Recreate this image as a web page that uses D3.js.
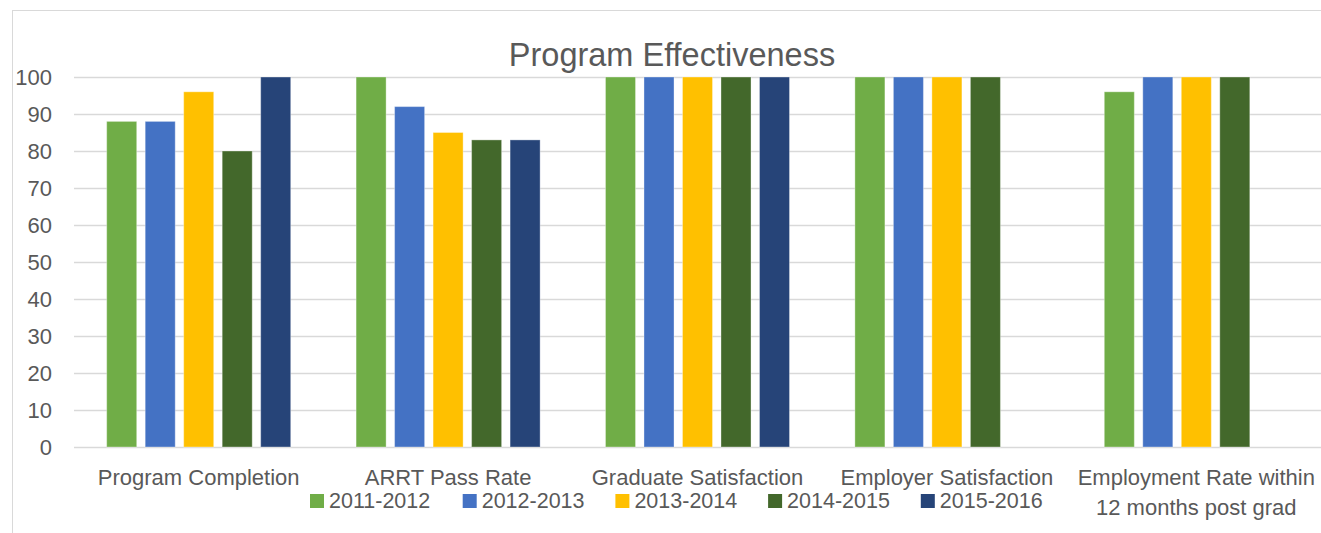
<!DOCTYPE html>
<html>
<head>
<meta charset="utf-8">
<script src="https://cdn.jsdelivr.net/npm/d3@7"></script>
<style>
	body { margin: 0; background: #fff; }
	svg { display: block; font-family: "Liberation Sans", Arial, sans-serif; }
</style>
</head>
<body>
<svg id="chart" width="1321" height="533"></svg>
<script>
// chart data
const categories = [
	["Program Completion"],
	["ARRT Pass Rate"],
	["Graduate Satisfaction"],
	["Employer Satisfaction"],
	["Employment Rate within", "12 months post grad"]
];
const years = ["2011-2012", "2012-2013", "2013-2014", "2014-2015", "2015-2016"];
const colors = ["#70AD47", "#4472C4", "#FFC000", "#43682B", "#264478"];
// one array per year, one value per category (null = no bar)
const v2011 = [88, 100, 100, 100, 96];
const v2012 = [88, 92, 100, 100, 100];
const v2013 = [96, 85, 100, 100, 100];
const v2014 = [80, 83, 100, 100, 100];
const v2015 = [100, 83, 100, null, null];
const yTicks = [0, 10, 20, 30, 40, 50, 60, 70, 80, 90, 100];

const series = [v2011, v2012, v2013, v2014, v2015];
const textColor = "#595959";
const gridColor = "#d9d9d9";

const svg = d3.select("#chart");

// chart frame (runs off the right and bottom edges)
svg.append("rect")
	.attr("x", 12.5).attr("y", 10.5)
	.attr("width", 1400).attr("height", 600)
	.attr("fill", "none")
	.attr("stroke", gridColor);

const plot = { left: 74, right: 1321, top: 77, bottom: 447 };

const x = d3.scaleBand()
	.domain(d3.range(categories.length))
	.range([plot.left, plot.right]);

const xInner = d3.scaleBand()
	.domain(years)
	.range([0, 192.5])
	.paddingInner(0.22)
	.paddingOuter(0.11);

const y = d3.scaleLinear()
	.domain([0, 100])
	.range([plot.bottom, plot.top]);

// gridlines + y labels
const yAxis = svg.append("g")
	.attr("transform", `translate(${plot.left},0)`)
	.call(d3.axisLeft(y).tickValues(yTicks).tickSize(-(plot.right - plot.left)).tickPadding(22));
yAxis.select(".domain").remove();
yAxis.selectAll(".tick line")
	.attr("stroke", gridColor)
	.attr("stroke-width", 1.5);
yAxis.selectAll(".tick text")
	.attr("fill", textColor)
	.attr("font-size", 22)
	.attr("font-family", "Liberation Sans, Arial, sans-serif");

// bars
const groups = svg.append("g")
	.selectAll("g")
	.data(categories.map((c, i) => i))
	.join("g")
	.attr("transform", i => `translate(${x(i) + x.bandwidth() / 2 - 96.25},0)`);

groups.selectAll("rect")
	.data(i => years.map((yr, s) => ({ yr, s, v: series[s][i] })).filter(d => d.v != null))
	.join("rect")
	.attr("x", d => xInner(d.yr))
	.attr("width", xInner.bandwidth())
	.attr("y", d => y(d.v))
	.attr("height", d => y(0) - y(d.v))
	.attr("fill", d => colors[d.s])
	.attr("stroke", "#fff")
	.attr("stroke-opacity", 0.35)
	.attr("stroke-width", 1);

// category labels
const catLabels = svg.append("g")
	.selectAll("text")
	.data(categories)
	.join("text")
	.attr("x", (d, i) => x(i) + x.bandwidth() / 2)
	.attr("y", 485)
	.attr("text-anchor", "middle")
	.attr("fill", textColor)
	.attr("font-size", 22);
catLabels.selectAll("tspan")
	.data(d => d)
	.join("tspan")
	.attr("x", function () { return d3.select(this.parentNode).attr("x"); })
	.attr("dy", (d, j) => j === 0 ? 0 : 30)
	.text(d => d);

// title
svg.append("text")
	.attr("x", 672)
	.attr("y", 66)
	.attr("text-anchor", "middle")
	.attr("fill", textColor)
	.attr("font-size", 32.5)
	.text("Program Effectiveness");

// legend
const legend = svg.append("g")
	.selectAll("g")
	.data(years)
	.join("g")
	.attr("transform", (d, i) => `translate(${310 + i * 152.7},508)`);
legend.append("rect")
	.attr("x", 0).attr("y", -14)
	.attr("width", 14).attr("height", 14)
	.attr("fill", (d, i) => colors[i]);
legend.append("text")
	.attr("x", 19)
	.attr("y", 0)
	.attr("fill", textColor)
	.attr("font-size", 21.5)
	.text(d => d);
</script>
</body>
</html>
